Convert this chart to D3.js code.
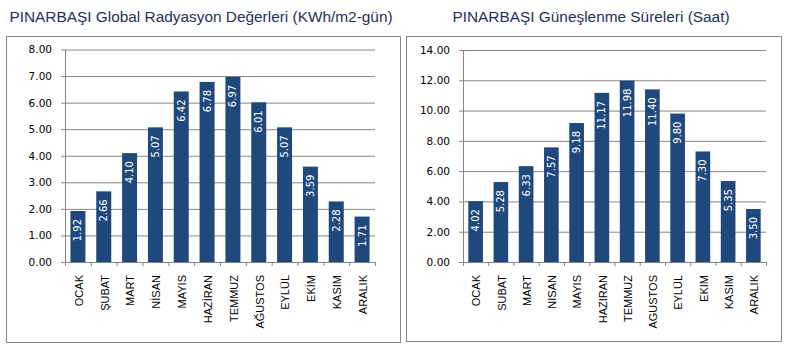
<!DOCTYPE html>
<html>
<head>
<meta charset="utf-8">
<script src="https://cdn.jsdelivr.net/npm/d3@7"></script>
<style>
  body { margin: 0; background: #fff; }
  svg { display: block; }
</style>
</head>
<body>
<div id="chart"></div>
<script>
var canvasWidth = 788;
var canvasHeight = 350;

/*Data*/
var monthsRad = ["OCAK","ŞUBAT","MART","NİSAN","MAYIS","HAZİRAN","TEMMUZ","AĞUSTOS","EYLÜL","EKİM","KASIM","ARALIK"];
var radiation = [1.92, 2.66, 4.10, 5.07, 6.42, 6.78, 6.97, 6.01, 5.07, 3.59, 2.28, 1.71];
var radTicks = [0, 1, 2, 3, 4, 5, 6, 7, 8];

var monthsSun = ["OCAK","SUBAT","MART","NISAN","MAYIS","HAZIRAN","TEMMUZ","AGUSTOS","EYLÜL","EKIM","KASIM","ARALIK"];
var sunshine = [4.02, 5.28, 6.33, 7.57, 9.18, 11.17, 11.98, 11.40, 9.80, 7.30, 5.35, 3.50];
var sunTicks = [0, 2, 4, 6, 8, 10, 12, 14];

var svg = d3.select("#chart").append("svg")
    .attr("width", canvasWidth)
    .attr("height", canvasHeight);

var barColor = "#1F497D";
var gridColor = "#868686";

function drawChart(opt) {
    /*Title*/
    svg.append("text")
        .attr("x", opt.titleX)
        .attr("y", 22)
        .attr("text-anchor", "middle")
        .attr("font-family", "Liberation Sans, Arial, sans-serif")
        .attr("font-size", "15.4px")
        .attr("fill", "#1F3060")
        .text(opt.title);

    /*Frame*/
    svg.append("rect")
        .attr("x", opt.box[0] + 0.5)
        .attr("y", opt.box[1] + 0.5)
        .attr("width", opt.box[2])
        .attr("height", opt.box[3])
        .attr("fill", "none")
        .attr("stroke", "#8a8a8a")
        .attr("stroke-width", 1);

    var xScale = d3.scaleBand().domain(opt.categories).range([opt.left, opt.right]).paddingInner(0.42).paddingOuter(0.21);
    var yScale = d3.scaleLinear().domain([0, opt.max]).range([opt.bottom, opt.top]);

    var g = svg.append("g");

    /*Gridlines*/
    g.append("g")
        .attr("transform", "translate(" + opt.left + ",0)")
        .call(d3.axisLeft(yScale).tickValues(opt.ticks).tickSize(-(opt.right - opt.left)).tickFormat(""))
        .call(function (s) { s.select(".domain").remove(); })
        .selectAll("line").attr("stroke", gridColor);

    /*Y axis*/
    var yAxis = g.append("g")
        .attr("transform", "translate(" + opt.left + ",0)")
        .call(d3.axisLeft(yScale).tickValues(opt.ticks).tickSize(4).tickSizeOuter(0).tickPadding(9).tickFormat(d3.format(".2f")));
    yAxis.select(".domain").attr("stroke", gridColor);
    yAxis.selectAll("line").attr("stroke", gridColor);
    yAxis.selectAll("text")
        .attr("font-family", "DejaVu Sans, Verdana, sans-serif")
        .attr("font-size", "10.5px")
        .attr("fill", "#000");

    /*Bars*/
    g.selectAll(".bar")
        .data(opt.values)
        .join("rect")
        .attr("x", function (d, i) { return xScale(opt.categories[i]); })
        .attr("y", function (d) { return yScale(d); })
        .attr("width", xScale.bandwidth())
        .attr("height", function (d) { return opt.bottom - yScale(d); })
        .attr("fill", barColor);

    /*X axis*/
    var xAxisScale = d3.scaleLinear().domain([0, 12]).range([opt.left, opt.right]);
    var xAxis = g.append("g")
        .attr("transform", "translate(0," + opt.bottom + ")")
        .call(d3.axisBottom(xAxisScale).tickValues(d3.range(0, 13)).tickSize(4).tickSizeOuter(0).tickFormat(""));
    xAxis.select(".domain").attr("stroke", gridColor);
    xAxis.selectAll("line").attr("stroke", gridColor);

    /*Category labels*/
    g.selectAll(".cat")
        .data(opt.categories)
        .join("text")
        .attr("transform", function (d) {
            return "translate(" + (xScale(d) + xScale.bandwidth() / 2 + 1) + "," + (opt.bottom + 13) + ") rotate(-90)";
        })
        .attr("dy", "0.35em")
        .attr("text-anchor", "end")
        .attr("font-family", "Liberation Sans, Arial, sans-serif")
        .attr("font-size", "11px")
        .attr("fill", "#000")
        .text(function (d) { return d; });

    /*Value labels*/
    g.selectAll(".val")
        .data(opt.values)
        .join("text")
        .attr("transform", function (d, i) {
            return "translate(" + (xScale(opt.categories[i]) + xScale.bandwidth() / 2) + "," + (yScale(d) + 8) + ") rotate(-90)";
        })
        .attr("dy", "0.35em")
        .attr("text-anchor", "end")
        .attr("font-family", "DejaVu Sans, Verdana, sans-serif")
        .attr("font-size", "10px")
        .attr("fill", "#fff")
        .text(function (d) { return d.toFixed(2); });
}

drawChart({
    title: "PINARBAŞI Global Radyasyon Değerleri (KWh/m2-gün)",
    titleX: 201,
    box: [6, 36, 394, 306],
    categories: monthsRad,
    values: radiation,
    ticks: radTicks,
    max: 8,
    left: 65, right: 375, top: 49.5, bottom: 262
});

drawChart({
    title: "PINARBAŞI Güneşlenme Süreleri (Saat)",
    titleX: 591,
    box: [406, 36, 375, 305],
    categories: monthsSun,
    values: sunshine,
    ticks: sunTicks,
    max: 14,
    left: 463, right: 766, top: 50, bottom: 262
});
</script>
</body>
</html>
